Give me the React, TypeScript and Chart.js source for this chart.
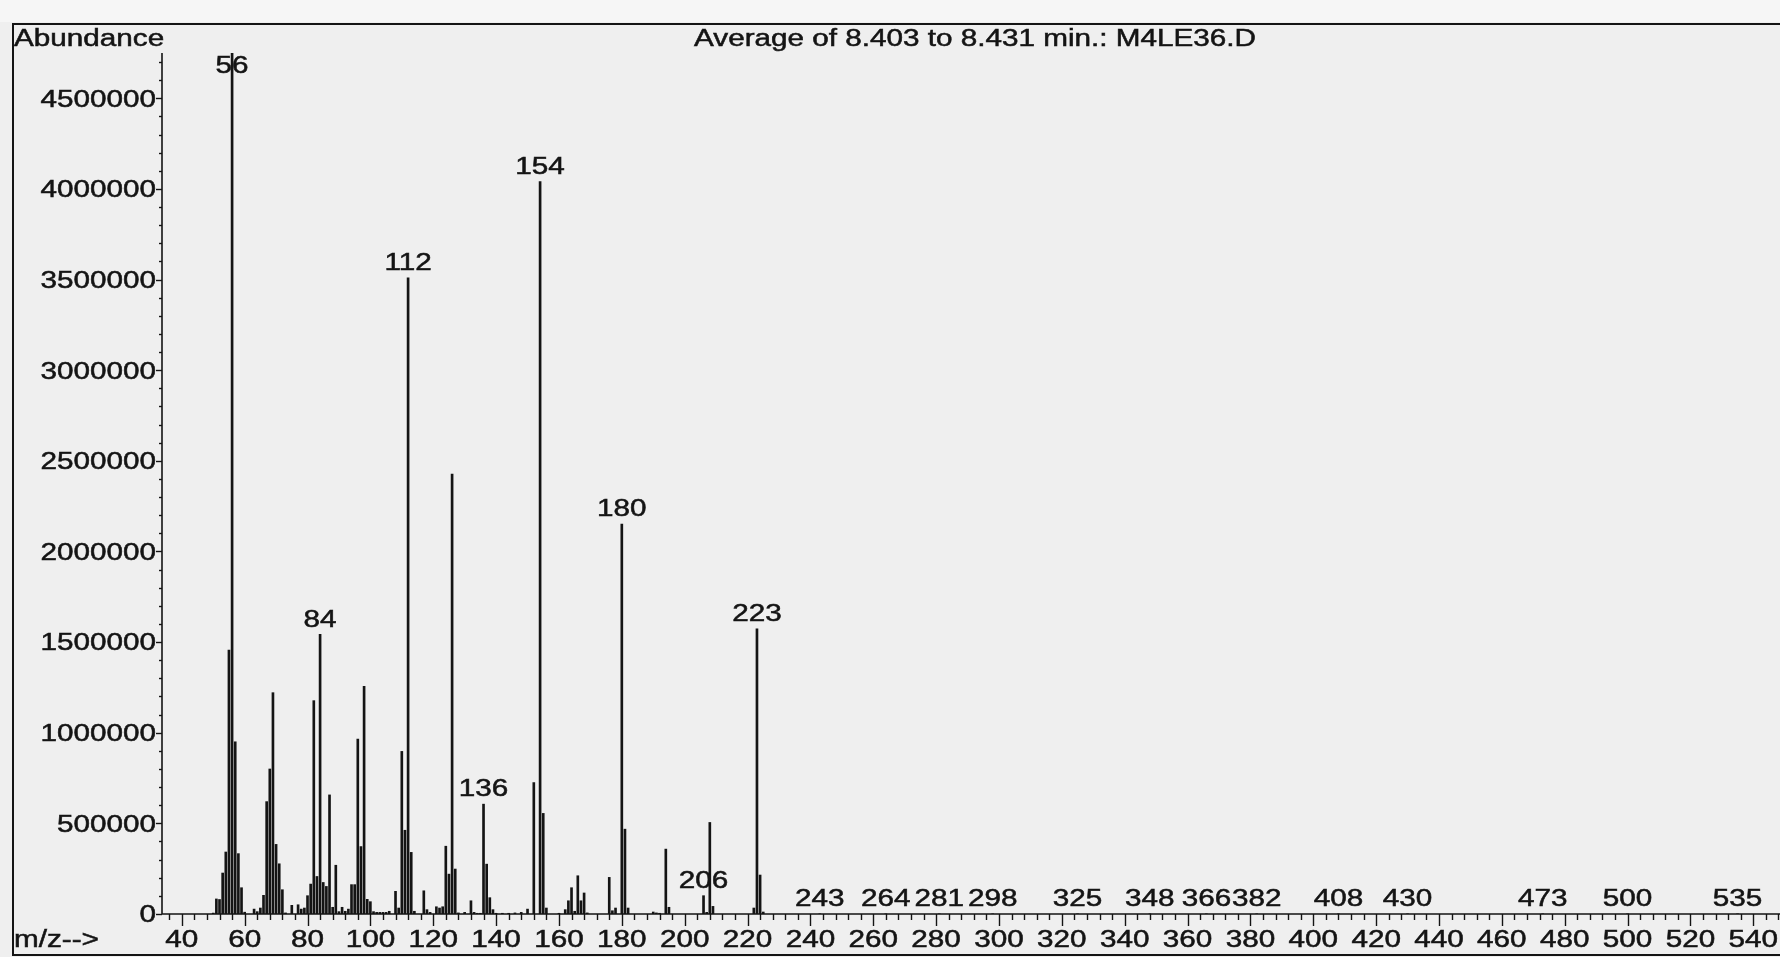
import React, { useEffect, useRef } from "react";
import { Chart, registerables } from "chart.js";

Chart.register(...registerables);

// m/z values of the bars
const mzValues: number[] = [
  50, 51, 52, 53, 54, 55, 56, 57, 58, 59, 60,
  63, 64, 65, 66, 67, 68, 69, 70, 71, 72, 73,
  75, 77, 78, 79, 80, 81, 82, 83, 84, 85, 86, 87, 88, 89, 90, 91, 92, 93,
  94, 95, 96, 97, 98, 99, 100, 101, 102, 103, 104, 105, 106,
  108, 109, 110, 111, 112, 113, 114,
  117, 118, 119, 121, 122, 123, 124, 125, 126, 127, 128,
  130, 132, 133, 134, 135, 136, 137, 138, 139, 140, 142, 144, 146, 148,
  150, 152, 154, 155, 156,
  160, 162, 163, 164, 165, 166, 167, 168, 169,
  176, 177, 178, 180, 181, 182,
  190, 191, 192, 194, 195,
  206, 207, 208, 209,
  222, 223, 224, 225,
  243, 264, 281, 298, 325, 348, 366, 382, 408, 430, 473, 500, 535,
];

// abundance of each bar
const abundanceValues: number[] = [
  5000, 83000, 80000, 226000, 342000, 1456000, 4750000, 950000, 333000, 145000, 10000,
  27000, 13000, 33000, 103000, 620000, 800000, 1221000, 384000, 277000, 134000, 6000,
  48000, 51000, 27000, 33000, 101000, 165000, 1177000, 207000, 1543000, 174000, 152000, 657000, 37000, 269000, 13000, 37000, 15000, 27000,
  162000, 162000, 965000, 372000, 1256000, 81000, 68000, 13000, 9000, 9000, 9000, 9000, 15000,
  125000, 33000, 897000, 462000, 3510000, 340000, 15000,
  128000, 24000, 9000, 40000, 33000, 40000, 374000, 220000, 2427000, 248000, 6000,
  9000, 73000, 9000, 4000, 4000, 606000, 275000, 90000, 24000, 4000, 4000, 4000, 6000, 9000,
  27000, 725000, 4040000, 555000, 33000,
  4000, 24000, 73000, 145000, 15000, 211000, 73000, 116000, 6000,
  202000, 18000, 33000, 2151000, 468000, 33000,
  11000, 6000, 4000, 358000, 37000,
  101000, 9000, 505000, 42000,
  33000, 1573000, 215000, 11000,
  1000, 1000, 1000, 1000, 1000, 1000, 1000, 1000, 1000, 1000, 1000, 1000, 1000,
];

// peaks that carry an m/z label
const labelledPeaks: number[] = [
  56, 84, 112, 136, 154, 180, 206, 223,
  243, 264, 281, 298, 325, 348, 366, 382, 408, 430, 473, 500, 535,
];

// axis settings
const yTickLabels: number[] = [0, 500000, 1000000, 1500000, 2000000, 2500000, 3000000, 3500000, 4000000, 4500000];
const xTickLabels: number[] = [40, 60, 80, 100, 120, 140, 160, 180, 200, 220, 240, 260, 280, 300, 320, 340, 360, 380, 400, 420, 440, 460, 480, 500, 520, 540];
const titleText = "Average of 8.403 to 8.431 min.: M4LE36.D";
const yAxisTitle = "Abundance";
const xAxisTitle = "m/z-->";

const X_MIN = 33.7;
const X_MAX = 548.5;
const Y_MAX = 4750000;

const W = 1780;
const H = 957;
const FONT = '23px "Liberation Sans", Arial, sans-serif';
const SX = 1.29;
const INK = "#141414";

function stretchedText(
  ctx: CanvasRenderingContext2D,
  text: string,
  x: number,
  y: number,
  align: CanvasTextAlign
) {
  ctx.save();
  ctx.translate(x, y);
  ctx.scale(SX, 1);
  ctx.font = FONT;
  ctx.fillStyle = INK;
  ctx.strokeStyle = INK;
  ctx.lineWidth = 0.5;
  ctx.textAlign = align;
  ctx.textBaseline = "middle";
  ctx.fillText(text, 0, 0);
  ctx.strokeText(text, 0, 0);
  ctx.restore();
}

const paperPlugin = {
  id: "paper",
  beforeDraw(chart: any) {
    const ctx = chart.ctx as CanvasRenderingContext2D;
    ctx.save();
    ctx.fillStyle = "#efefef";
    ctx.fillRect(0, 0, W, H);
    ctx.fillStyle = "#f6f6f6";
    ctx.fillRect(0, 0, W, 22);
    ctx.restore();
  },
};

const axesPlugin = {
  id: "msAxes",
  afterDraw(chart: any) {
    const ctx = chart.ctx as CanvasRenderingContext2D;
    const xs = chart.scales.x;
    const ys = chart.scales.y;
    const area = chart.chartArea;
    const y0 = ys.getPixelForValue(0);
    const xLeft = area.left;

    ctx.save();
    ctx.strokeStyle = INK;

    // outer frame
    ctx.lineWidth = 2;
    ctx.beginPath();
    ctx.moveTo(W, 24);
    ctx.lineTo(13, 24);
    ctx.lineTo(13, 955);
    ctx.lineTo(W, 955);
    ctx.stroke();

    // axis lines
    ctx.lineWidth = 1.6;
    ctx.beginPath();
    ctx.moveTo(xLeft, ys.getPixelForValue(Y_MAX));
    ctx.lineTo(xLeft, y0);
    ctx.lineTo(area.right, y0);
    ctx.stroke();

    // y ticks
    ctx.lineWidth = 1.4;
    for (let v = 0; v <= Y_MAX; v += 100000) {
      const py = Math.round(ys.getPixelForValue(v)) + 0.5;
      const len = v % 500000 === 0 ? 6 : 3;
      ctx.beginPath();
      ctx.moveTo(xLeft - len, py);
      ctx.lineTo(xLeft, py);
      ctx.stroke();
    }
    // x ticks
    for (let v = 36; v <= X_MAX; v += 4) {
      const px = Math.round(xs.getPixelForValue(v)) + 0.5;
      const len = v % 20 === 0 ? 12 : 6;
      ctx.beginPath();
      ctx.moveTo(px, y0);
      ctx.lineTo(px, y0 + len);
      ctx.stroke();
    }
    ctx.restore();

    // tick labels
    yTickLabels.forEach((v) => {
      stretchedText(ctx, String(v), xLeft - 6, ys.getPixelForValue(v) + 2, "right");
    });
    xTickLabels.forEach((v) => {
      stretchedText(ctx, String(v), xs.getPixelForValue(v), 941, "center");
    });

    // titles
    stretchedText(ctx, yAxisTitle, 14, 40, "left");
    stretchedText(ctx, xAxisTitle, 14, 941, "left");
    stretchedText(ctx, titleText, 975, 40, "center");

    // peak labels
    labelledPeaks.forEach((m) => {
      const i = mzValues.indexOf(m);
      const val = i >= 0 ? abundanceValues[i] : 0;
      const top = ys.getPixelForValue(val);
      const ly = Math.max(top - 14, 67);
      stretchedText(ctx, String(m), xs.getPixelForValue(m), ly, "center");
    });
  },
};

export default function App() {
  const ref = useRef<HTMLCanvasElement | null>(null);

  useEffect(() => {
    if (!ref.current) return;
    const chart = new Chart(ref.current, {
      type: "bar",
      data: {
        datasets: [
          {
            data: mzValues.map((m, i) => ({ x: m, y: abundanceValues[i] })),
            backgroundColor: INK,
            borderWidth: 0,
            barThickness: 2,
          },
        ],
      },
      options: {
        animation: false,
        responsive: false,
        devicePixelRatio: 1,
        layout: { padding: { top: 53, left: 0, right: 0, bottom: 0 } },
        plugins: { legend: { display: false }, tooltip: { enabled: false }, title: { display: false } },
        scales: {
          x: {
            type: "linear",
            min: X_MIN,
            max: X_MAX,
            offset: false,
            grid: { display: false },
            border: { display: false },
            ticks: { display: false },
            afterFit: (s: any) => {
              s.height = 43;
            },
          },
          y: {
            min: 0,
            max: Y_MAX,
            grid: { display: false },
            border: { display: false },
            ticks: { display: false },
            afterFit: (s: any) => {
              s.width = 162;
            },
          },
        },
      },
      plugins: [paperPlugin, axesPlugin],
    } as any);
    return () => chart.destroy();
  }, []);

  return (
    <canvas
      ref={ref}
      width={W}
      height={H}
      style={{ position: "fixed", left: 0, top: 0, width: W, height: H, display: "block" }}
    />
  );
}
